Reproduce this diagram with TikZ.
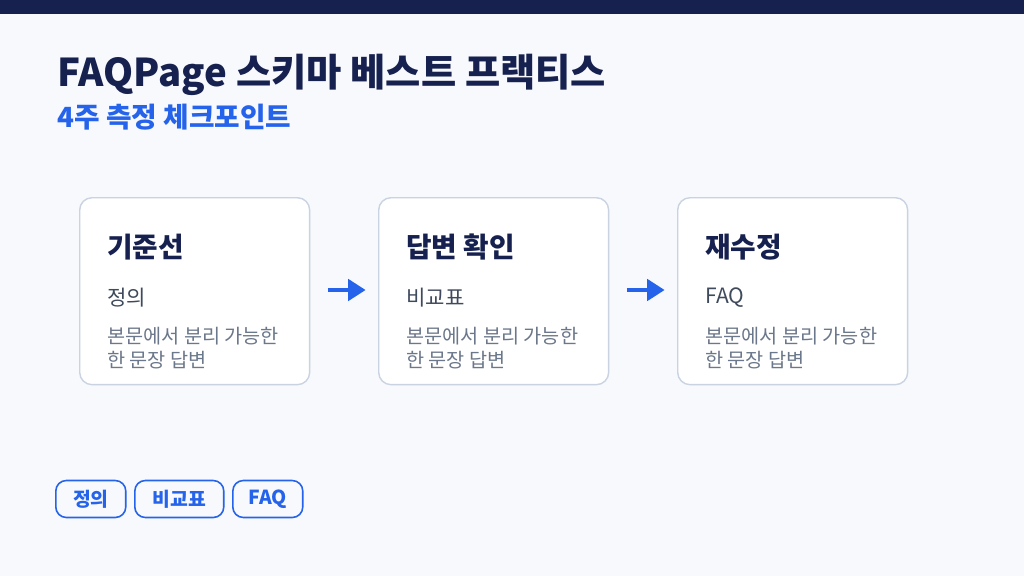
\documentclass[tikz,border=0pt]{standalone}
\usepackage{fontspec}
\setmainfont{Noto Sans CJK KR}
\usepackage{tikz}
\usetikzlibrary{positioning, arrows.meta}
\definecolor{navy}{HTML}{16214F}
\definecolor{accent}{HTML}{2563EB}
\definecolor{bgpage}{HTML}{F7F9FC}
\definecolor{cardline}{HTML}{C9D3E2}
\definecolor{bodytext}{HTML}{3F4A5C}
\definecolor{mutetext}{HTML}{6B778A}

\begin{document}
\begin{tikzpicture}[
    x=0.02cm, y=-0.02cm,
    % Define specific styles to match the drawing
    card/.style={
        draw=cardline,
        fill=white,
        line width=0.8pt,
        rounded corners=7pt,
        minimum width=4.6cm,
        minimum height=3.74cm,
        anchor=north west
    },
    heading/.style={
        anchor=west,
        inner sep=0pt,
        text=navy,
        font=\fontsize{15.8}{18}\selectfont\bfseries
    },
    lead/.style={
        anchor=west,
        inner sep=0pt,
        text=bodytext,
        font=\fontsize{12}{15}\selectfont
    },
    note/.style={
        anchor=north west,
        text=mutetext,
        align=left,
        inner sep=0pt,
        font=\fontsize{11.2}{13.6}\selectfont
    },
    flow/.style={
        draw=accent,
        line width=2.6pt,
        -{Triangle[length=10pt,width=12pt]},
        shorten <=10pt, shorten >=7pt
    },
    tag/.style={
        draw=accent,
        line width=0.9pt,
        rounded corners=6pt,
        text=accent,
        minimum height=0.74cm,
        inner xsep=0pt,
        anchor=west,
        font=\fontsize{11}{13}\selectfont\bfseries
    }
]
    \useasboundingbox (0,0) rectangle (1024,576);
    \fill[bgpage] (0,0) rectangle (1024,576);
    \fill[navy] (0,0) rectangle (1024,14);

    % --- Title ---
    \node[anchor=west, inner sep=0pt, text=navy, font=\fontsize{21.8}{25}\selectfont\bfseries] (title) at (57,75) {FAQPage 스키마 베스트 프랙티스};
    \node[anchor=west, inner sep=0pt, text=accent, font=\fontsize{15.8}{18}\selectfont\bfseries] (subtitle) at (57,117) {4주 측정 체크포인트};

    % --- Cards ---
    \node[card] (base) at (79,197) {};
    \node[card] (answer) at (378,197) {};
    \node[card] (revise) at (677,197) {};

    \node[heading] at (107,247) {기준선};
    \node[lead] at (107,298) {정의};
    \node[note] at (107,327) {본문에서 분리 가능한\\한 문장 답변};

    \node[heading] at (406,247) {답변 확인};
    \node[lead] at (406,298) {비교표};
    \node[note] at (406,327) {본문에서 분리 가능한\\한 문장 답변};

    \node[heading] at (705,247) {재수정};
    \node[lead] at (705,298) {FAQ};
    \node[note] at (705,327) {본문에서 분리 가능한\\한 문장 답변};

    % --- Arrows ---
    \draw[flow] (base.east |- 0,290) -- (answer.west |- 0,290);
    \draw[flow] (answer.east |- 0,290) -- (revise.west |- 0,290);

    % --- Tags ---
    \node[tag, minimum width=1.4cm] (t1) at (55,499) {정의};
    \node[tag, minimum width=1.78cm] (t2) at (134,499) {비교표};
    \node[tag, minimum width=1.4cm] (t3) at (232,499) {FAQ};
\end{tikzpicture}
\end{document}
